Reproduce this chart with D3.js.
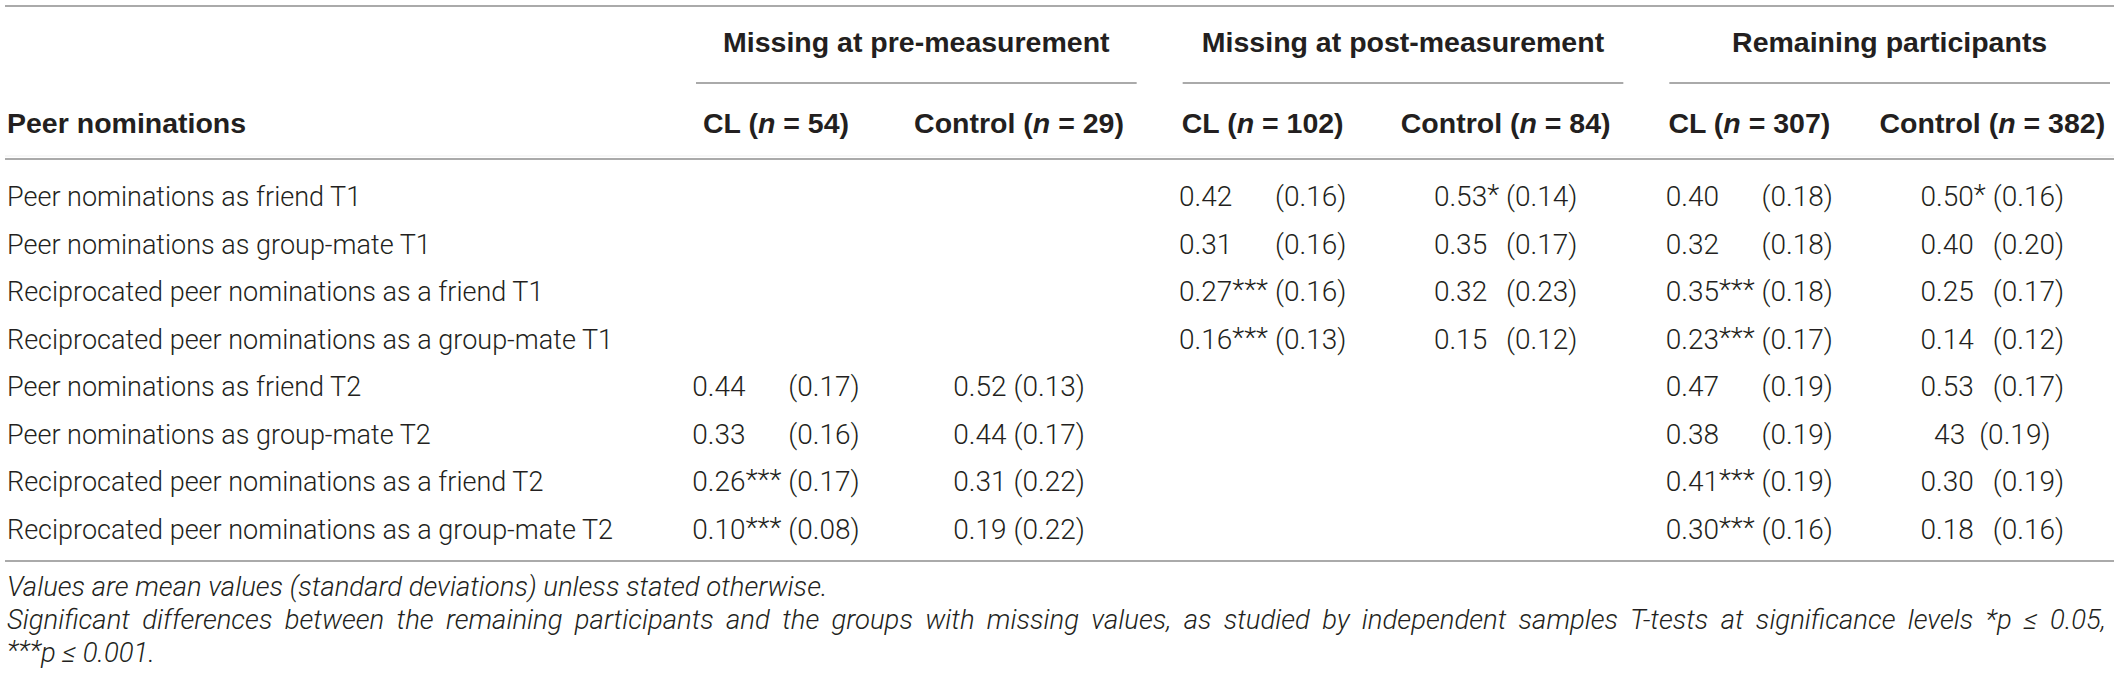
<!DOCTYPE html>
<html>
<head>
<meta charset="utf-8">
<script src="https://cdn.jsdelivr.net/npm/d3@7"></script>
<style>
  body { margin: 0; background: #fff; }
  text { fill: #231f20; }
</style>
</head>
<body>
<div id="table"></div>
<script>
// Table content
const rowLabels = [
    "Peer nominations as friend T1",
    "Peer nominations as group-mate T1",
    "Reciprocated peer nominations as a friend T1",
    "Reciprocated peer nominations as a group-mate T1",
    "Peer nominations as friend T2",
    "Peer nominations as group-mate T2",
    "Reciprocated peer nominations as a friend T2",
    "Reciprocated peer nominations as a group-mate T2"
]
const groups = ["Missing at pre-measurement", "Missing at post-measurement", "Remaining participants"]
const conditions = ["CL", "Control"]
const nCL = [54, 102, 307]
const nControl = [29, 84, 382]

// means, significance marks and standard deviations, one array per column (null = empty cell)
const preCLMean = [null, null, null, null, 0.44, 0.33, 0.26, 0.10]
const preCLSig = ["", "", "", "", "", "", "***", "***"]
const preCLSd = [null, null, null, null, 0.17, 0.16, 0.17, 0.08]

const preControlMean = [null, null, null, null, 0.52, 0.44, 0.31, 0.19]
const preControlSig = ["", "", "", "", "", "", "", ""]
const preControlSd = [null, null, null, null, 0.13, 0.17, 0.22, 0.22]

const postCLMean = [0.42, 0.31, 0.27, 0.16, null, null, null, null]
const postCLSig = ["", "", "***", "***", "", "", "", ""]
const postCLSd = [0.16, 0.16, 0.16, 0.13, null, null, null, null]

const postControlMean = [0.53, 0.35, 0.32, 0.15, null, null, null, null]
const postControlSig = ["*", "", "", "", "", "", "", ""]
const postControlSd = [0.14, 0.17, 0.23, 0.12, null, null, null, null]

const remCLMean = [0.40, 0.32, 0.35, 0.23, 0.47, 0.38, 0.41, 0.30]
const remCLSig = ["", "", "***", "***", "", "", "***", "***"]
const remCLSd = [0.18, 0.18, 0.18, 0.17, 0.19, 0.19, 0.19, 0.16]

const remControlMean = [0.50, 0.40, 0.25, 0.14, 0.53, 43, 0.30, 0.18]   // "43" is printed like that in the source
const remControlSig = ["*", "", "", "", "", "", "", ""]
const remControlSd = [0.16, 0.20, 0.17, 0.12, 0.17, 0.19, 0.19, 0.16]

const footnote1 = "Values are mean values (standard deviations) unless stated otherwise."
const footnote2 = "Significant differences between the remaining participants and the groups with missing values, as studied by independent samples T-tests at significance levels "

function drawTable() {
    const width = 2119
    const height = 686
    const ruleColor = "#aaaaaa"
    const bodyFont = "Roboto, 'Liberation Sans', sans-serif"
    const headFont = "'Liberation Sans', Arial, sans-serif"
    const labelSize = 27
    const valueSize = 28
    const headSize = 28.5
    const footSize = 27.5

    const columns = [
        { group: 0, cond: "CL", mean: preCLMean, sig: preCLSig, sd: preCLSd },
        { group: 0, cond: "Control", mean: preControlMean, sig: preControlSig, sd: preControlSd },
        { group: 1, cond: "CL", mean: postCLMean, sig: postCLSig, sd: postCLSd },
        { group: 1, cond: "Control", mean: postControlMean, sig: postControlSig, sd: postControlSd },
        { group: 2, cond: "CL", mean: remCLMean, sig: remCLSig, sd: remCLSd },
        { group: 2, cond: "Control", mean: remControlMean, sig: remControlSig, sd: remControlSd }
    ]

    const svg = d3.select("#table").append("svg")
        .attr("width", width).attr("height", height)

    // scales: groups across the table, conditions inside each group, rows down the body
    const xGroup = d3.scaleBand().domain(groups).range([673, 2133])
    const xCond = d3.scalePoint().domain(conditions).range([103, 346])
    const colX = (c) => xGroup(groups[c.group]) + xCond(c.cond)
    const y = d3.scalePoint().domain(rowLabels).range([206, 539])

    const fmt = (v) => v < 1 ? v.toFixed(2) : String(v)

    // horizontal rules
    const hline = (x1, x2, yy, color) => svg.append("line")
        .attr("x1", x1).attr("x2", x2).attr("y1", yy).attr("y2", yy)
        .attr("stroke", color || ruleColor).attr("stroke-width", 2)
    hline(5, 2114, 6)
    hline(5, 2114, 156, "#efefef").attr("stroke-width", 1)
    hline(5, 2114, 159)
    hline(5, 2114, 561)

    // group headers + underline
    groups.forEach((g) => {
        const x0 = xGroup(g)
        svg.append("text")
            .attr("x", x0 + xGroup.bandwidth() / 2).attr("y", 52)
            .attr("text-anchor", "middle")
            .style("font-family", headFont).style("font-weight", "bold").style("font-size", headSize + "px")
            .text(g)
        hline(x0 + 23, x0 + xGroup.bandwidth() - 23, 83)
    })

    // column headers
    svg.append("text")
        .attr("x", 7).attr("y", 133)
        .style("font-family", headFont).style("font-weight", "bold").style("font-size", headSize + "px")
        .text("Peer nominations")

    columns.forEach((c) => {
        const n = c.cond == "CL" ? nCL[c.group] : nControl[c.group]
        const t = svg.append("text")
            .attr("x", colX(c)).attr("y", 133)
            .attr("text-anchor", "middle")
            .style("font-family", headFont).style("font-weight", "bold").style("font-size", headSize + "px")
        t.append("tspan").text(c.cond + " (")
        t.append("tspan").style("font-style", "italic").text("n")
        t.append("tspan").text(" = " + n + ")")
    })

    // row labels
    svg.append("g").selectAll("text")
        .data(rowLabels)
        .enter()
        .append("text")
        .attr("x", 7)
        .attr("y", (d) => y(d))
        .style("font-family", bodyFont).style("font-weight", 300).style("font-size", labelSize + "px")
        .text((d) => d)

    // cells: mean (+ stars) at the left of the column block, sd at the right
    const bodyStyle = (sel) => sel.style("font-family", bodyFont).style("font-weight", 300).style("font-size", valueSize + "px")

    columns.forEach((c) => {
        const g = svg.append("g")
        const cells = []
        rowLabels.forEach((label, i) => {
            if (c.mean[i] == null) return
            const m = g.append("text").attr("y", y(label)).call(bodyStyle)
            m.append("tspan").text(fmt(c.mean[i]))
            if (c.sig[i]) m.append("tspan").attr("dy", -2).text(c.sig[i])
            const s = g.append("text").attr("y", y(label)).attr("text-anchor", "end").call(bodyStyle)
                .text("(" + c.sd[i].toFixed(2) + ")")
            cells.push({ m, s, value: c.mean[i] })
        })
        const space = 7
        const blockW = d3.max(cells, (d) => d.m.node().getComputedTextLength() + space + d.s.node().getComputedTextLength())
        const cx = colX(c)
        cells.forEach((d) => {
            if (d.value < 1) {
                d.m.attr("x", cx - blockW / 2)
                d.s.attr("x", cx + blockW / 2)
            } else {
                // odd entry without decimals: the cell is simply centred
                const w = d.m.node().getComputedTextLength() + 2 * space + d.s.node().getComputedTextLength()
                d.m.attr("x", cx - w / 2)
                d.s.attr("x", cx + w / 2)
            }
        })
    })

    // footnotes (justified paragraph: the wrapped line is stretched to the table width)
    const footStyle = (sel) => sel.style("font-family", bodyFont).style("font-weight", 300)
        .style("font-style", "italic").style("font-size", footSize + "px")
    svg.append("text").attr("x", 7).attr("y", 596).call(footStyle).text(footnote1)

    const f2 = svg.append("text").attr("x", 7).attr("y", 629).call(footStyle)
    f2.append("tspan").text(footnote2 + "*")
    f2.append("tspan").text("p")
    f2.append("tspan").text(" \u2264 0.05,")
    const f2Len = f2.node().getComputedTextLength()
    const f2Spaces = (footnote2 + "p \u2264 0.05,").split(" ").length - 1
    f2.style("word-spacing", ((2106 - 7 - f2Len) / f2Spaces) + "px")

    const f3 = svg.append("text").attr("x", 7).attr("y", 662).call(footStyle)
    f3.append("tspan").attr("dy", -2).text("***")
    f3.append("tspan").attr("dy", 2).text("p \u2264 0.001.")
}

drawTable()
</script>
</body>
</html>
